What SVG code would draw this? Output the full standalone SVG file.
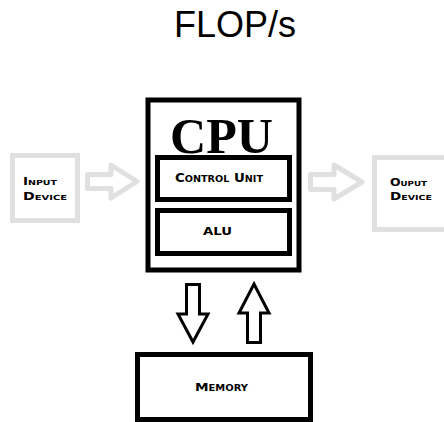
<svg xmlns="http://www.w3.org/2000/svg" width="444" height="422" viewBox="0 0 444 422">
<style>
.box{fill:#fff;stroke:#000;stroke-width:5}
.gbox{fill:#fff;stroke:#e0e0e0;stroke-width:5}
.garrow{fill:#fff;stroke:#e0e0e0;stroke-width:5;stroke-linejoin:round}
.barrow{fill:#fff;stroke:#000;stroke-width:3;stroke-linejoin:miter}
.sc{font-family:"DejaVu Sans","Liberation Sans",sans-serif;font-weight:bold;font-variant:small-caps;fill:#000}
</style>
<rect width="444" height="422" fill="#fff"/>
<text x="235" y="37" text-anchor="middle" font-family="Liberation Sans, Arial, sans-serif" font-size="36" fill="#000">FLOP/s</text>
<g id="connectors">
<path class="garrow" d="M87.5,174.5 H111 V165 L137,181.5 L111,198 V188.5 H87.5 Z"/>
<path class="garrow" d="M310.5,174.5 H334 V165 L362,182 L334,199 V189.5 H310.5 Z"/>
<path class="barrow" d="M186.5,284.5 H199.5 V314 H208 L193,342 L178,314 H186.5 Z"/>
<path class="barrow" d="M254,284 L269,313 H260.5 V342.5 H247.5 V313 H239 Z"/>
</g>
<g id="input">
<rect class="gbox" x="12.5" y="155.5" width="65" height="65"/>
<text class="sc" x="23" y="185" font-size="10" textLength="34" lengthAdjust="spacingAndGlyphs">Input</text>
<text class="sc" x="23" y="200" font-size="10" textLength="44" lengthAdjust="spacingAndGlyphs">Device</text>
</g>
<g id="output">
<rect class="gbox" x="374.5" y="157.5" width="80" height="72"/>
<text class="sc" x="390" y="186" font-size="10" textLength="37" lengthAdjust="spacingAndGlyphs">Ouput</text>
<text class="sc" x="390" y="199.5" font-size="10" textLength="42" lengthAdjust="spacingAndGlyphs">Device</text>
</g>
<g id="cpu">
<rect class="box" x="148" y="100" width="151" height="170" stroke-width="6"/>
<text x="221.5" y="153" text-anchor="middle" font-family="Liberation Serif, Times New Roman, serif" font-weight="bold" font-size="50" textLength="103" lengthAdjust="spacingAndGlyphs" fill="#000">CPU</text>
</g>
<g id="control-unit">
<rect class="box" x="157.5" y="157.5" width="132" height="42"/>
<text class="sc" x="219" y="182" text-anchor="middle" font-size="12.5" textLength="88" lengthAdjust="spacingAndGlyphs">Control Unit</text>
</g>
<g id="alu">
<rect class="box" x="157.5" y="210.5" width="132" height="43"/>
<text class="sc" x="217.5" y="235" text-anchor="middle" font-size="11" textLength="29" lengthAdjust="spacingAndGlyphs">ALU</text>
</g>
<g id="memory">
<rect class="box" x="137.5" y="354.5" width="173" height="65"/>
<text class="sc" x="221.5" y="391" text-anchor="middle" font-size="11" textLength="53" lengthAdjust="spacingAndGlyphs">Memory</text>
</g>
</svg>
